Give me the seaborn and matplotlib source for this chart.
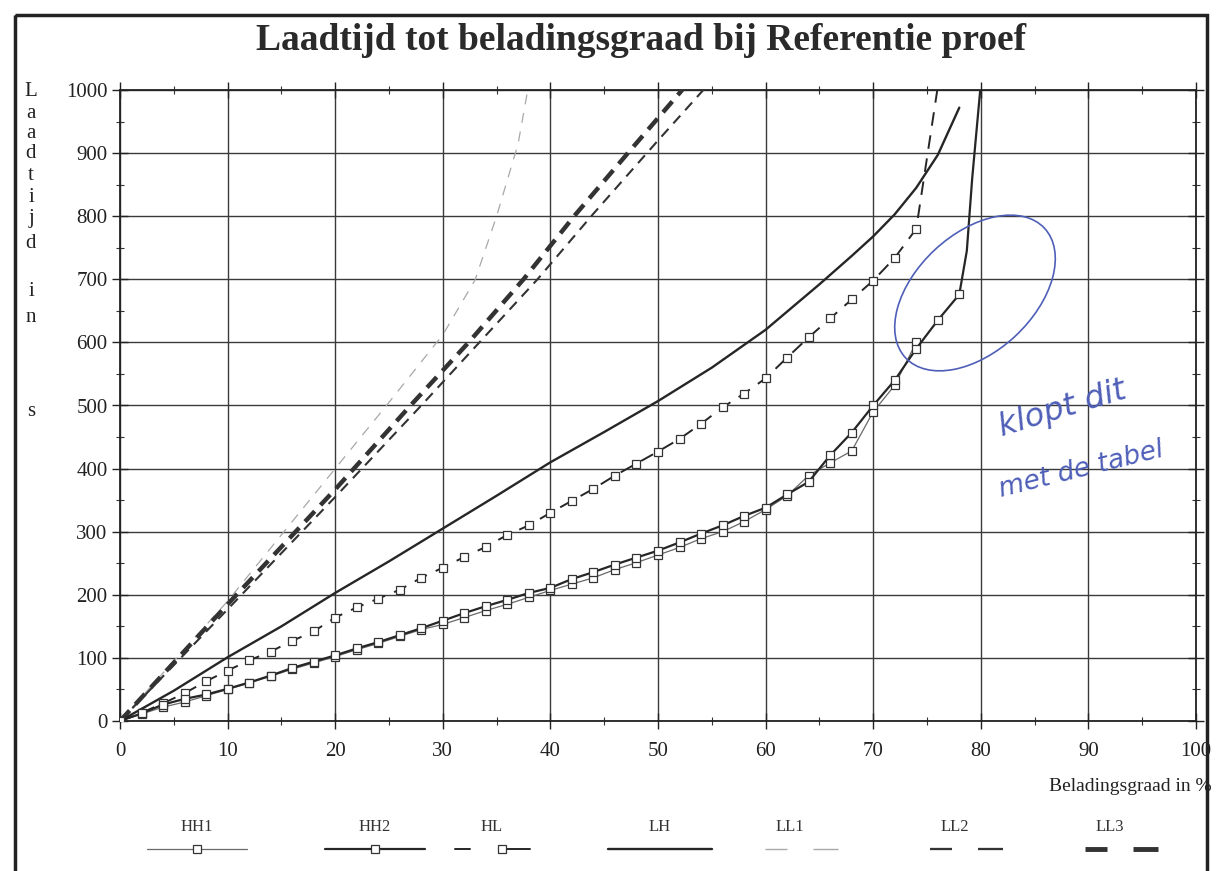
import numpy as np
import pandas as pd
import matplotlib
matplotlib.use("Agg")
import matplotlib.pyplot as plt
from matplotlib.patches import Ellipse, Rectangle
from matplotlib.ticker import MultipleLocator
import seaborn as sns

# ---------------- data ----------------
hh_x = list(range(0, 80, 2))  # 0..78
hh1_x = list(range(0, 76, 2))  # 0..74
hh1_y = [0, 11, 22, 30, 40, 50, 60, 71, 82, 92, 102, 113, 123, 134, 145, 153, 164, 175, 185,
         196, 207, 217, 227, 240, 251, 263, 275, 289, 300, 316, 335, 357, 389, 409, 428, 490,
         532, 600]
hh2_x = hh_x + [78.7, 79.2, 80]
hh2_y = [0, 12, 26, 35, 42, 51, 61, 72, 84, 94, 104, 115, 125, 136, 147, 159, 171, 182, 192,
         203, 211, 225, 236, 248, 259, 270, 283, 297, 310, 325, 338, 359, 379, 421, 457, 500,
         540, 590, 635, 676, 745, 860, 1010]
hl_x = list(range(0, 76, 2)) + [76]
hl_y = [0, 13, 28, 44, 63, 80, 96, 110, 127, 142, 164, 180, 194, 208, 227, 243, 260, 276, 295,
        310, 330, 349, 368, 389, 408, 427, 447, 471, 497, 519, 543, 576, 608, 638, 668, 698,
        734, 780, 1005]
lh_x = [0, 5, 10, 15, 20, 25, 30, 35, 40, 45, 50, 55, 60, 65, 68, 70, 72, 74, 76, 78]
lh_y = [0, 48, 101, 150, 203, 253, 305, 357, 410, 458, 507, 560, 620, 692, 737, 768, 803,
        845, 897, 972]
ll1_x = [0, 10, 15, 20, 25, 30, 33, 35, 37, 38]
ll1_y = [0, 190, 295, 400, 505, 612, 699, 800, 915, 1010]
ll2_x = [0, 10, 20, 28, 33.4, 38.8, 44, 50, 55]
ll2_y = [0, 177, 355, 500, 600, 700, 804, 920, 1015]
ll3_x = [0, 10, 20, 27, 32.4, 37.5, 42.3, 47.3, 53]
ll3_y = [0, 185, 367, 500, 600, 700, 802, 902, 1015]

legend_labels = ["HH1", "HH2", "HL", "LH", "LL1", "LL2", "LL3"]
x_ticks = list(range(0, 101, 10))
y_ticks = list(range(0, 1001, 100))

title = "Laadtijd tot beladingsgraad bij Referentie proef"
xlabel = "Beladingsgraad in %"
ylabel_letters = ["L", "a", "a", "d", "t", "i", "j", "d", "i", "n", "s"]

# ---------------- styling ----------------
sns.set_style("white")
plt.rcParams["font.family"] = ["Liberation Serif", "DejaVu Serif"]

DARK = "#262626"
styles = {
    "HH1": dict(color="#6a6a6a", lw=0.9, ls="-", marker="s"),
    "HH2": dict(color=DARK, lw=1.6, ls="-", marker="s"),
    "HL": dict(color=DARK, lw=1.4, ls=(0, (7, 5)), marker="s"),
    "LH": dict(color=DARK, lw=1.7, ls="-", marker=None),
    "LL1": dict(color="#a8a8a8", lw=0.9, ls=(0, (8, 7)), marker=None),
    "LL2": dict(color="#333333", lw=1.5, ls=(0, (5, 3.5)), marker=None),
    "LL3": dict(color="#333333", lw=3.2, ls=(0, (3.2, 1.9)), marker=None),
}
series = {
    "HH1": (hh1_x, hh1_y),
    "HH2": (hh2_x, hh2_y),
    "HL": (hl_x, hl_y),
    "LH": (lh_x, lh_y),
    "LL1": (ll1_x, ll1_y),
    "LL2": (ll2_x, ll2_y),
    "LL3": (ll3_x, ll3_y),
}
marker_counts = {"HH1": len(hh1_x), "HH2": len(hh_x), "HL": len(hl_x) - 1}

W, H = 1218, 871
fig = plt.figure(figsize=(W / 100, H / 100), dpi=100)
fig.patch.set_facecolor("white")
ax = fig.add_axes([120 / W, 1 - 721 / H, (1196 - 120) / W, (721 - 90) / H])

order = ["LL1", "LL2", "LL3", "LH", "HL", "HH1", "HH2"]
for name in order:
    xs, ys = series[name]
    st = styles[name]
    kw = dict(color=st["color"], linewidth=st["lw"], linestyle=st["ls"])
    if st["marker"]:
        kw.update(marker="s", markersize=5.5, markerfacecolor="white",
                  markeredgecolor="#333333", markeredgewidth=0.9,
                  markevery=list(range(marker_counts[name])))
    df = pd.DataFrame({"x": xs, "y": ys})
    sns.lineplot(data=df, x="x", y="y", ax=ax, zorder=3, **kw)

ax.set_xlim(0, 100)
ax.set_ylim(0, 1000)
ax.set_xlabel("")
ax.set_ylabel("")
ax.set_xticks(x_ticks)
ax.set_yticks(y_ticks)
ax.xaxis.set_minor_locator(MultipleLocator(5))
ax.yaxis.set_minor_locator(MultipleLocator(50))
ax.grid(True, which="major", color="#3a3a3a", linewidth=1.0)
ax.set_axisbelow(True)
for sp in ax.spines.values():
    sp.set_color("#222222")
    sp.set_linewidth(1.3)
ax.tick_params(axis="both", which="major", direction="inout", length=12, width=1.0,
               color="#222222", labelsize=15, labelcolor="#222222",
               top=True, right=True, bottom=True, left=True)
ax.tick_params(axis="both", which="minor", direction="inout", length=6, width=0.8,
               color="#333333", top=True, right=True, bottom=True, left=True)
ax.tick_params(axis="x", which="major", pad=9)
ax.tick_params(axis="y", which="major", pad=3)

# title & axis texts
fig.text(641 / W, 1 - 41 / H, title, ha="center", va="center", fontsize=27,
         fontweight="bold", color="#2a2a2a")
fig.text(1212 / W, 1 - 786 / H, xlabel, ha="right", va="center", fontsize=14, color="#222222")
ylab_pos = [91, 113, 133, 154, 176, 197, 218, 243, 292, 317, 411]
for ch, yy in zip(ylabel_letters, ylab_pos):
    fig.text(31 / W, 1 - yy / H, ch, ha="center", va="center", fontsize=15, color="#222222")

# overlay in pixel coordinates for legend, frame and handwriting
ov = fig.add_axes([0, 0, 1, 1], zorder=10)
ov.set_xlim(0, W)
ov.set_ylim(H, 0)
ov.axis("off")
ov.patch.set_alpha(0)

# outer frame of the scanned page
ov.add_patch(Rectangle((15, 15), 1192, 900, fill=False, edgecolor="#222222", linewidth=2.5))

# legend: label above, sample line below
centers = [197, 375, 492, 660, 790, 955, 1110]
for name, c in zip(legend_labels, centers):
    ov.text(c, 827, name, ha="center", va="center", fontsize=12, color="#333333")
    st = styles[name]
    if name in ("HH1", "HH2"):
        ov.plot([c - 50, c, c + 50], [849, 849, 849], color=st["color"], lw=st["lw"],
                marker="s", markersize=5.5, mfc="white", mec="#333333", mew=0.9, markevery=[1])
    elif name == "HL":
        ov.plot([c - 37, c - 22], [849, 849], color=st["color"], lw=st["lw"])
        ov.plot([c + 10, c + 38], [849, 849], color=st["color"], lw=st["lw"],
                marker="s", markersize=5.5, mfc="white", mec="#333333", mew=0.9, markevery=[0])
    elif name == "LH":
        ov.plot([c - 52, c + 52], [849, 849], color=st["color"], lw=st["lw"])
    else:
        ov.plot([c - 25, c - 3], [849, 849], color=st["color"], lw=st["lw"] * 1.1,
                solid_capstyle="butt")
        ov.plot([c + 23, c + 48], [849, 849], color=st["color"], lw=st["lw"] * 1.1,
                solid_capstyle="butt")

# handwritten annotation
ov.add_patch(Ellipse((975, 293), 190, 118, angle=-43, fill=False, edgecolor="#4f5fb8",
                     linewidth=1.2))
ov.text(995, 436, "klopt dit", rotation=17, color="#4f5fb8", fontsize=23, style="italic",
        family="DejaVu Sans", ha="left", va="baseline", fontweight="light")
ov.text(996, 497, "met de tabel", rotation=14, color="#4f5fb8", fontsize=19, style="italic",
        family="DejaVu Sans", ha="left", va="baseline", fontweight="light")

fig.savefig("out.png", dpi=100, facecolor="white")
